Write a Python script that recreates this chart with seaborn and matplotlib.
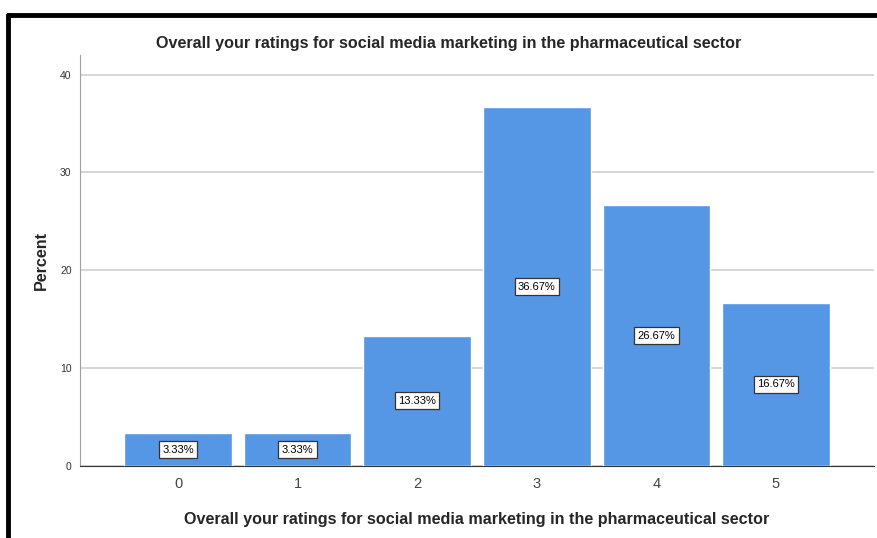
import seaborn as sns
import matplotlib.pyplot as plt
import pandas as pd
from matplotlib.lines import Line2D

# ratings and their percent share
ratings = ["0", "1", "2", "3", "4", "5"]
percent = [3.33, 3.33, 13.33, 36.67, 26.67, 16.67]

title = "Overall your ratings for social media marketing in the pharmaceutical sector"

df = pd.DataFrame({"rating": ratings, "percent": percent})

sns.set_style("white")
plt.rcParams['font.family'] = ['Liberation Sans', 'DejaVu Sans']

fig = plt.figure(figsize=(8.77, 5.38), dpi=100)
ax = fig.add_axes([0.0912, 0.1338, 0.9054, 0.764])

sns.barplot(data=df, x="rating", y="percent", order=ratings, color="#5596E5",
            saturation=1, width=0.9, ax=ax, zorder=3)

ax.set_ylim(0, 42)
ax.set_xlim(-0.82, 5.82)
ax.set_yticks([0, 10, 20, 30, 40])
ax.yaxis.grid(True, color="#d0d0d0", lw=1.2, zorder=0)
ax.set_axisbelow(True)
ax.tick_params(axis="y", labelsize=7.5, length=0, pad=6, labelcolor="#333333")
ax.tick_params(axis="x", labelsize=10.5, length=0, pad=8, labelcolor="#444444")

for s in ["top", "right"]:
    ax.spines[s].set_visible(False)
ax.spines["left"].set_color("#a0a0a0")
ax.spines["bottom"].set_color("#333333")

ax.set_xlabel(title, fontsize=11.6, fontweight="bold", labelpad=15)
ax.set_ylabel("Percent", fontsize=11.6, fontweight="bold", labelpad=8)

# value labels in the middle of each bar
for i, v in enumerate(percent):
    ax.text(i, v / 2, f"{v:.2f}%", ha="center", va="center", fontsize=8,
            color="black", zorder=5,
            bbox=dict(boxstyle="square,pad=0.3", fc="white", ec="#333333", lw=0.9))

fig.text(0.511, 0.919, title, ha="center", va="center", fontsize=11.6,
         fontweight="bold")

# black frame on top and left
fig.add_artist(Line2D([0.0091, 1.0], [0.973, 0.973], color="black", lw=3.5,
                      transform=fig.transFigure))
fig.add_artist(Line2D([0.0091, 0.0091], [0.0, 0.973], color="black", lw=3.5,
                      transform=fig.transFigure))

plt.savefig("out.png", dpi=100)
